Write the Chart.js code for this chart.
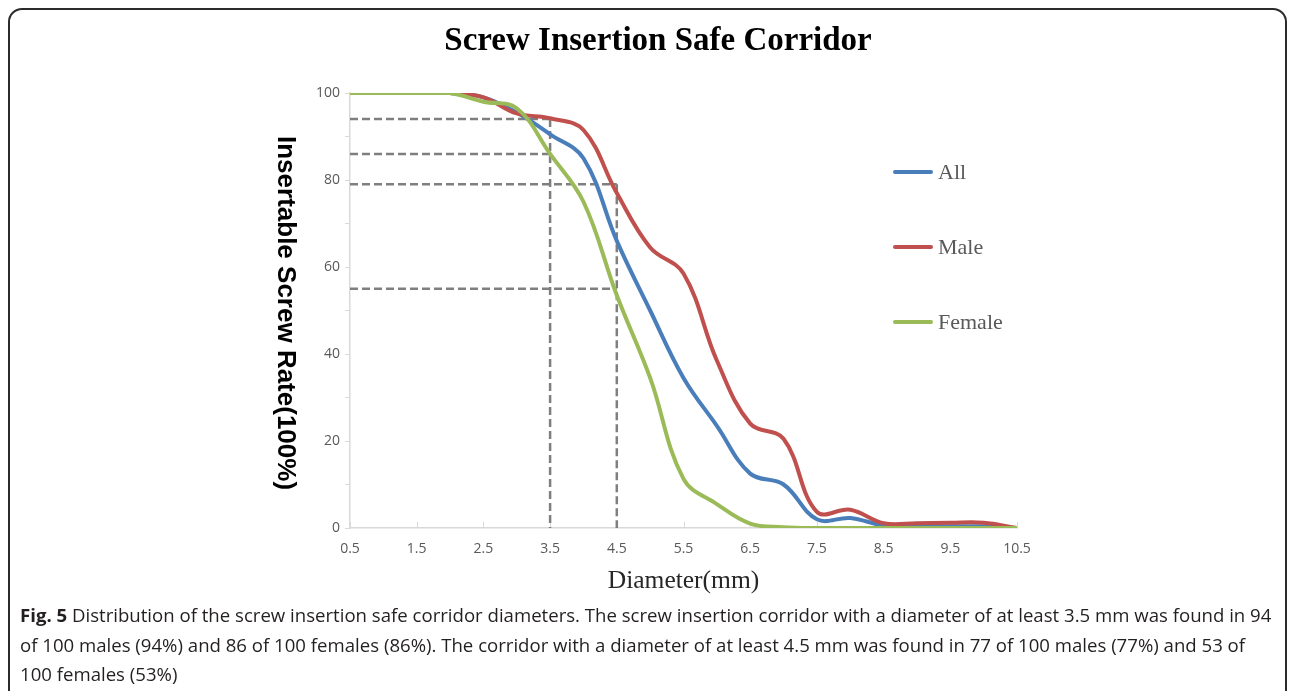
<!DOCTYPE html>
<html>
<head>
<meta charset="utf-8">
<script src="https://cdn.jsdelivr.net/npm/chart.js@4.4.1/dist/chart.umd.min.js"></script>
<style>
  html, body { margin: 0; padding: 0; background: #fff; width: 1292px; height: 691px; overflow: hidden; }
  #frame { position: absolute; left: 8px; top: 8px; width: 1279px; height: 720px;
           border: 2px solid #2b2b2b; border-radius: 14px; box-sizing: border-box; }
  #wrap { position: absolute; left: 0; top: 0; width: 1292px; height: 691px; }
  #title { position: absolute; left: 0; top: 19px; width: 1316px; text-align: center;
           font: bold 33px 'Liberation Serif', 'Times New Roman', serif; color: #000; line-height: 40px; }
  #ytitle { position: absolute; left: 274px; top: 136px; writing-mode: vertical-rl;
            font: bold 26px 'Liberation Sans', Arial, sans-serif; color: #000; line-height: 26px; }
  #xtitle { position: absolute; left: 350px; top: 564px; width: 667px; text-align: center;
            font: 25.5px 'Liberation Serif', 'Times New Roman', serif; color: #262626; line-height: 32px; }
  #legend { position: absolute; left: 893px; top: 0; }
  .lg { position: absolute; left: 0; white-space: nowrap; font: 22px 'Liberation Serif', 'Times New Roman', serif;
        color: #595959; line-height: 26px; }
  .lg i { display: inline-block; width: 40px; height: 4px; border-radius: 2px; vertical-align: middle;
          margin-right: 5px; position: relative; top: -2px; }
  #caption { position: absolute; left: 20px; top: 600px; white-space: nowrap;
             font: 18.6px 'Open Sans', sans-serif; color: #231f20; line-height: 29.5px; }
  #caption b { font-weight: bold; }
</style>
</head>
<body>
<div id="frame"></div>
<div id="wrap"><canvas id="c" width="1292" height="691"></canvas></div>
<div id="title">Screw Insertion Safe Corridor</div>
<div id="ytitle">Insertable Screw Rate(100%)</div>
<div id="xtitle">Diameter(mm)</div>
<div id="legend"></div>
<div id="caption"><b>Fig. 5</b> Distribution of the screw insertion safe corridor diameters. The screw insertion corridor with a diameter of at least 3.5 mm was found in 94<br>of 100 males (94%) and 86 of 100 females (86%). The corridor with a diameter of at least 4.5 mm was found in 77 of 100 males (77%) and 53 of<br>100 females (53%)</div>
<script>
// ---- data ----
const diameters = [0.5, 1, 1.5, 2, 2.5, 3, 3.5, 4, 4.5, 5, 5.5, 6, 6.5, 7, 7.5, 8, 8.5, 9, 9.5, 10, 10.5];
const rateAll    = [100, 100, 100, 100, 99, 95.5, 90.5, 85, 66, 50, 34.5, 23.5, 12.5, 10, 2, 2.3, 0.6, 0.4, 0.4, 0.4, 0];
const rateMale   = [100, 100, 100, 100, 99, 95.3, 94.2, 91.5, 77, 64.5, 58.5, 38.5, 24, 20.5, 3.7, 4.2, 1.1, 1.1, 1.2, 1.2, 0];
const rateFemale = [100, 100, 100, 100, 98, 96.5, 86, 75, 53.5, 34.5, 11.3, 5.5, 1, 0.2, 0, 0, 0, 0, 0, 0, 0];

const seriesNames  = ['All', 'Male', 'Female'];
const seriesColors = ['#4a7ebb', '#c0504d', '#9bbb59'];

// reference (dashed) lines: diameter -> rates marked on the y axis
const refDiameters = [3.5, 4.5];
const refRates     = [[94, 86], [79, 55]];

const xTickValues = [0.5, 1.5, 2.5, 3.5, 4.5, 5.5, 6.5, 7.5, 8.5, 9.5, 10.5];

const toXY = arr => diameters.map((d, i) => ({ x: d, y: arr[i] }));

// ---- dashed guide datasets ----
const guideSets = [];
refDiameters.forEach((d, k) => {
  const rs = refRates[k];
  rs.forEach(r => guideSets.push([{ x: diameters[0], y: r }, { x: d, y: r }]));
  guideSets.push([{ x: d, y: Math.max(...rs) }, { x: d, y: 0 }]);
});

const datasets = [rateAll, rateMale, rateFemale].map((arr, i) => ({
  label: seriesNames[i],
  data: toXY(arr),
  borderColor: seriesColors[i],
  borderWidth: 4,
  tension: 0.38,
  pointRadius: 0,
  fill: false,
  order: [3, 2, 1][i]
}));
guideSets.forEach(g => datasets.push({
  label: '',
  data: g,
  borderColor: '#7f7f7f',
  borderWidth: 2.5,
  borderDash: [8, 4],
  tension: 0,
  pointRadius: 0,
  order: 10
}));

// ---- small tick marks on the x axis, pointing into the plot ----
const innerXTicks = {
  id: 'innerXTicks',
  beforeDatasetsDraw(chart) {
    const ctx = chart.ctx, xs = chart.scales.x, y0 = chart.chartArea.bottom;
    ctx.save();
    ctx.strokeStyle = '#d9d9d9';
    ctx.lineWidth = 1;
    xTickValues.forEach(v => {
      const px = Math.round(xs.getPixelForValue(v)) + 0.5;
      ctx.beginPath(); ctx.moveTo(px, y0); ctx.lineTo(px, y0 - 6); ctx.stroke();
    });
    ctx.restore();
  }
};

new Chart(document.getElementById('c').getContext('2d'), {
  type: 'line',
  data: { datasets },
  plugins: [innerXTicks],
  options: {
    responsive: false,
    animation: false,
    layout: { padding: { left: 290, top: 93, right: 275, bottom: 123 } },
    plugins: { legend: { display: false }, tooltip: { enabled: false } },
    scales: {
      x: {
        type: 'linear', min: 0.5, max: 10.5,
        afterFit: s => { s.height = 40; },
        afterBuildTicks: s => { s.ticks = xTickValues.map(v => ({ value: v })); },
        grid: { display: false, drawTicks: false },
        border: { display: true, color: '#d9d9d9', width: 1.5 },
        ticks: { padding: 13, color: '#595959', font: { family: 'Open Sans', size: 14 },
                 maxRotation: 0, autoSkip: false, callback: v => v.toFixed(1) }
      },
      y: {
        min: 0, max: 100,
        afterFit: s => { s.width = 60; },
        grid: { drawOnChartArea: false, drawTicks: true, tickLength: 5, color: '#d9d9d9' },
        border: { display: true, color: '#d9d9d9', width: 1.5 },
        ticks: { stepSize: 10, padding: 5, color: '#595959', font: { family: 'Open Sans', size: 14 },
                 callback: v => (v % 20 === 0 ? v : '') }
      }
    }
  }
});

// ---- legend placed inside the plot like the original ----
const legendTops = [172, 247, 322];
const lg = document.getElementById('legend');
seriesNames.forEach((n, i) => {
  const d = document.createElement('div');
  d.className = 'lg';
  d.style.top = (legendTops[i] - 13) + 'px';
  d.innerHTML = '<i style="background:' + seriesColors[i] + '"></i>' + n;
  lg.appendChild(d);
});
</script>
</body>
</html>
